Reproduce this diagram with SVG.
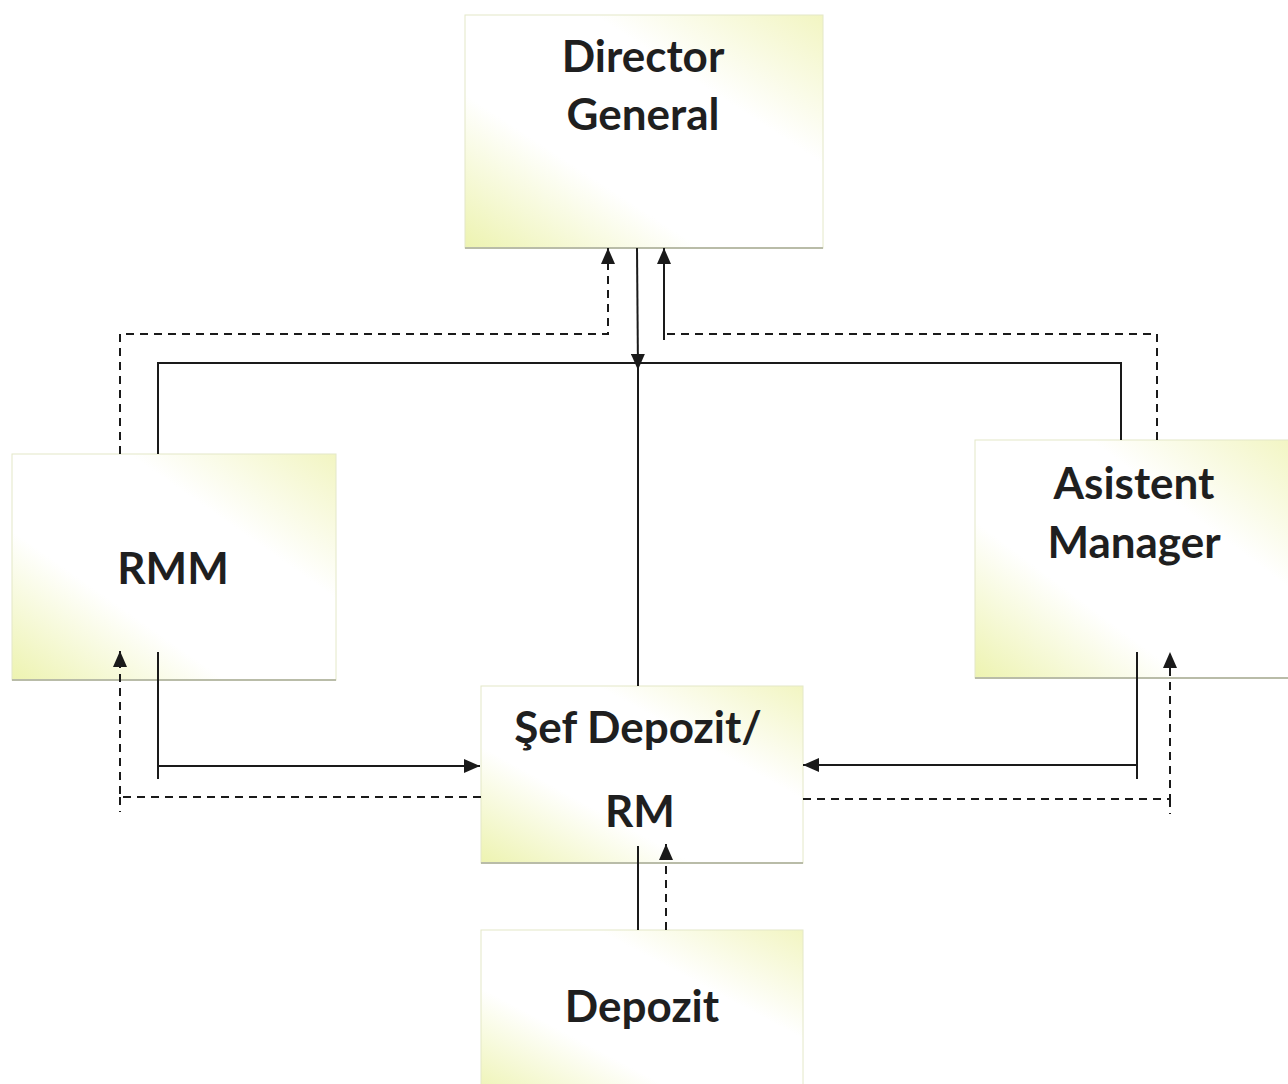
<svg xmlns="http://www.w3.org/2000/svg" width="1288" height="1084" viewBox="0 0 1288 1084">
<style>
.box{fill:url(#g);stroke:#e4e8c8;stroke-width:1}
.shadow{fill:none;stroke:#b9bca8;stroke-width:2}
.t{font-family:Lato,"Open Sans","Liberation Sans",sans-serif;font-weight:bold;font-size:44px;fill:#1f1f1f;text-anchor:middle}
.s{fill:none;stroke:#1a1a1a;stroke-width:2}
.d{fill:none;stroke:#1a1a1a;stroke-width:2;stroke-dasharray:8 6}
</style>
<defs>
<linearGradient id="g" x1="0" y1="1" x2="1" y2="0">
<stop offset="0" stop-color="#edf3b0"/>
<stop offset="0.33" stop-color="#ffffff"/>
<stop offset="0.68" stop-color="#ffffff"/>
<stop offset="1" stop-color="#f2f5c2"/>
</linearGradient>
<marker id="a" viewBox="0 0 16 14" refX="16" refY="7" markerWidth="16" markerHeight="14" markerUnits="userSpaceOnUse" orient="auto">
<path d="M0,0 L16,7 L0,14 z" fill="#1a1a1a"/>
</marker>
</defs>
<g id="director-general">
<rect class="box" x="465" y="15" width="358" height="233"/>
<line class="shadow" x1="465" y1="248" x2="823" y2="248"/>
<text class="t" x="643" y="72">Director</text>
<text class="t" x="643" y="130">General</text>
</g>
<g id="rmm">
<rect class="box" x="12" y="454" width="324" height="226"/>
<line class="shadow" x1="12" y1="680" x2="336" y2="680"/>
<text class="t" x="173" y="584">RMM</text>
</g>
<g id="asistent-manager">
<rect class="box" x="975" y="440" width="320" height="238"/>
<line class="shadow" x1="975" y1="678" x2="1288" y2="678"/>
<text class="t" x="1134" y="499">Asistent</text>
<text class="t" x="1134" y="558">Manager</text>
</g>
<g id="sef-depozit">
<rect class="box" x="481" y="686" width="322" height="177"/>
<line class="shadow" x1="481" y1="863" x2="803" y2="863"/>
<text class="t" x="638" y="743">Şef Depozit/</text>
<text class="t" x="640" y="827">RM</text>
</g>
<g id="depozit">
<rect class="box" x="481" y="930" width="322" height="170"/>
<text class="t" x="642" y="1022">Depozit</text>
</g>
<g id="connectors">
<line class="s" x1="637" y1="248" x2="638" y2="370" marker-end="url(#a)"/>
<line class="s" x1="638" y1="363" x2="638" y2="686"/>
<polyline class="s" points="158,454 158,363 1121,363 1121,440"/>
<polyline class="s" points="664,340 664,248" marker-end="url(#a)"/>
<polyline class="d" points="1157,440 1157,334 664,334"/>
<polyline class="d" points="120,454 120,334 608,334 608,248" marker-end="url(#a)"/>
<polyline class="s" points="158,652 158,779"/>
<polyline class="s" points="158,766 480,766" marker-end="url(#a)"/>
<polyline class="d" points="481,797 120,797 120,651" marker-end="url(#a)"/>
<line class="d" x1="120" y1="797" x2="120" y2="812"/>
<polyline class="s" points="1137,652 1137,779"/>
<polyline class="s" points="1137,765 803,765" marker-end="url(#a)"/>
<polyline class="d" points="803,799 1170,799 1170,652" marker-end="url(#a)"/>
<line class="d" x1="1170" y1="799" x2="1170" y2="814"/>
<line class="s" x1="638" y1="846" x2="638" y2="930"/>
<line class="d" x1="666" y1="930" x2="666" y2="844" marker-end="url(#a)"/>
</g>
</svg>
